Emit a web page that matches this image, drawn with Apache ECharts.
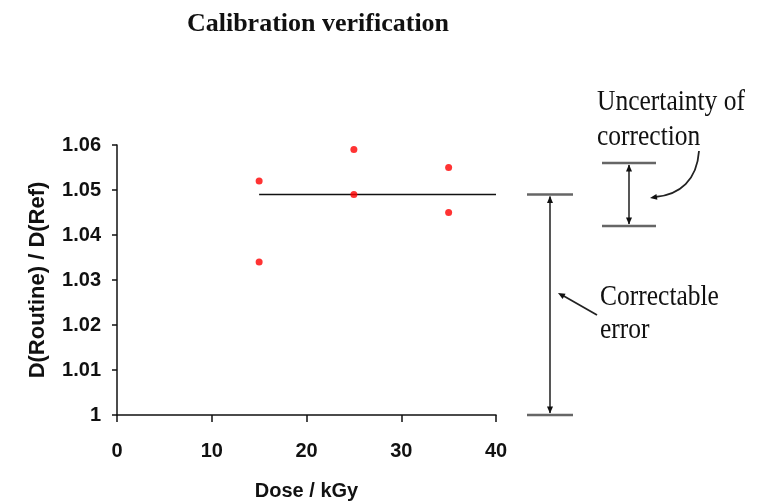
<!DOCTYPE html>
<html>
<head>
<meta charset="utf-8">
<script src="https://cdn.jsdelivr.net/npm/echarts@6/dist/echarts.min.js"></script>
<style>html,body{margin:0;padding:0;background:#fff;}#c{width:772px;height:504px;}</style>
</head>
<body>
<div id="c"></div>
<script>
// Data
var doses = [15, 15, 25, 25, 35, 35];
var ratios = [1.052, 1.034, 1.059, 1.049, 1.055, 1.045];
var meanLineX = [15, 40];
var meanValue = 1.049;
var xTicks = [0, 10, 20, 30, 40];
var yTicks = [1, 1.01, 1.02, 1.03, 1.04, 1.05, 1.06];
var correctableRange = [1, 1.049];
var uncertaintyRange = [1.042, 1.056];

var chart = echarts.init(document.getElementById('c'));
var sansBold = {fontFamily: 'Liberation Sans, Arial, sans-serif', fontWeight: 'bold', color: '#111'};

chart.setOption({
  animation: false,
  title: {
    text: 'Calibration verification',
    left: 313, top: 6, textAlign: 'center',
    textStyle: {fontFamily: 'Liberation Serif, Times New Roman, serif', fontWeight: 'bold', fontSize: 26, color: '#111'}
  },
  grid: {left: 117, right: 276, top: 145, bottom: 89, containLabel: false, outerBoundsMode: 'none'},
  xAxis: {
    type: 'value', min: xTicks[0], max: xTicks[xTicks.length - 1], interval: 10,
    name: 'Dose / kGy', nameLocation: 'middle', nameGap: 66,
    nameTextStyle: Object.assign({fontSize: 20}, sansBold),
    axisLine: {lineStyle: {color: '#111', width: 1.5}},
    axisTick: {show: true, length: 7, lineStyle: {color: '#111', width: 1.5}},
    axisLabel: Object.assign({fontSize: 20, margin: 26}, sansBold),
    splitLine: {show: false}
  },
  yAxis: {
    type: 'value', min: yTicks[0], max: yTicks[yTicks.length - 1], interval: 0.01,
    name: 'D(Routine) / D(Ref)', nameLocation: 'middle', nameGap: 68, nameRotate: 90,
    nameTextStyle: Object.assign({fontSize: 22}, sansBold),
    axisLine: {lineStyle: {color: '#111', width: 1.5}},
    axisTick: {show: true, length: 5, lineStyle: {color: '#111', width: 1.5}},
    axisLabel: Object.assign({fontSize: 20, margin: 16, formatter: function (v) { return String(+v.toFixed(2)); }}, sansBold),
    splitLine: {show: false}
  },
  series: [
    {
      type: 'line', data: meanLineX.map(function (x) { return [x, meanValue]; }),
      symbol: 'none', lineStyle: {color: '#111', width: 1.5}, z: 2
    },
    {
      type: 'scatter', data: doses.map(function (d, i) { return [d, ratios[i]]; }),
      symbol: 'circle', symbolSize: 7, itemStyle: {color: '#ff0000'}, z: 3
    }
  ]
});

function yPix(v) { return chart.convertToPixel({yAxisIndex: 0}, v); }
function head(x, y, ang) {
  var L = 7, W = 3;
  var bx = x - L * Math.cos(ang), by = y - L * Math.sin(ang);
  var px = -Math.sin(ang) * W, py = Math.cos(ang) * W;
  return {type: 'polygon', shape: {points: [[x, y], [bx + px, by + py], [bx - px, by - py]]}, style: {fill: '#111'}};
}
function errBar(xc, halfW, v0, v1) {
  var yTop = yPix(v1), yBot = yPix(v0);
  return [
    {type: 'line', shape: {x1: xc - halfW, y1: yTop, x2: xc + halfW, y2: yTop}, style: {stroke: '#666', lineWidth: 2.5}},
    {type: 'line', shape: {x1: xc - halfW, y1: yBot, x2: xc + halfW, y2: yBot}, style: {stroke: '#666', lineWidth: 2.5}},
    {type: 'line', shape: {x1: xc, y1: yTop + 2, x2: xc, y2: yBot - 2}, style: {stroke: '#444', lineWidth: 1.8}},
    head(xc, yTop + 1.5, -Math.PI / 2),
    head(xc, yBot - 1.5, Math.PI / 2)
  ];
}
var serif = 'Liberation Serif, Times New Roman, serif';
function label(txt, x, y) {
  return {type: 'text', x: x, y: y, scaleX: 0.85, style: {text: txt, fontFamily: serif, fontSize: 30, fill: '#111'}};
}
var els = [];
els = els.concat(errBar(550, 23, correctableRange[0], correctableRange[1]));
els = els.concat(errBar(629, 27, uncertaintyRange[0], uncertaintyRange[1]));
els.push({type: 'line', shape: {x1: 597, y1: 315, x2: 562, y2: 295}, style: {stroke: '#222', lineWidth: 1.8}});
els.push(head(558, 293, Math.atan2(293 - 315, 558 - 597)));
els.push({type: 'bezierCurve', shape: {x1: 699, y1: 151, cpx1: 697, cpy1: 180, cpx2: 680, cpy2: 195, x2: 655, y2: 197}, style: {stroke: '#222', lineWidth: 1.8, fill: null}});
els.push(head(650, 198, Math.atan2(198 - 196, 650 - 662)));
els.push(label('Uncertainty of', 597, 87));
els.push(label('correction', 597, 122));
els.push(label('Correctable', 600, 282));
els.push(label('error', 600, 315));
chart.setOption({graphic: {elements: els}});
</script>
</body>
</html>
